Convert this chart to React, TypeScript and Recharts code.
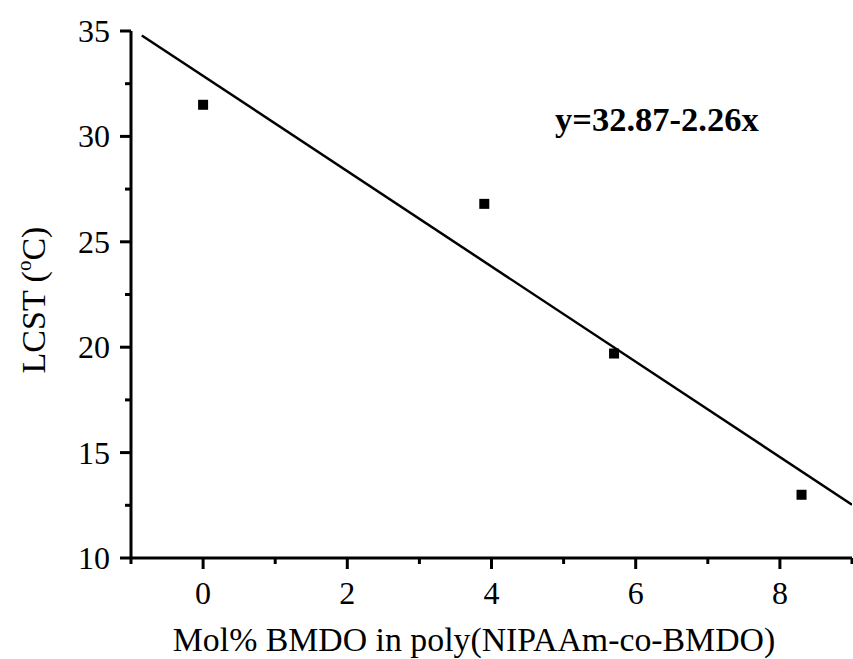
import { ScatterChart, Scatter, XAxis, YAxis } from "recharts";

// measured points
const molPct = [0, 3.9, 5.7, 8.3];
const lcst = [31.5, 26.8, 19.7, 13.0];

// linear fit y = 32.87 - 2.26x, end points as drawn
const fitX = [-0.85, 9];
const fitY = [34.79, 12.53];

const xTicks = [-1, 0, 1, 2, 3, 4, 5, 6, 7, 8, 9];
const yTicks = [10, 12.5, 15, 17.5, 20, 22.5, 25, 27.5, 30, 32.5, 35];
const xLabels = [0, 2, 4, 6, 8];
const yLabels = [10, 15, 20, 25, 30, 35];

const points = molPct.map((x, i) => ({ x, y: lcst[i] }));
const fitLine = fitX.map((x, i) => ({ x, y: fitY[i] }));

const FONT = '"Liberation Serif", "Times New Roman", serif';

// eslint-disable-next-line @typescript-eslint/no-explicit-any
const XTick = ({ x, y, payload }: any) => {
  const major = xLabels.includes(payload.value);
  return (
    <g>
      <line x1={x} y1={y} x2={x} y2={y + (major ? 11 : 6)} stroke="#000" strokeWidth={3} />
      {major && (
        <text x={x} y={y + 46} textAnchor="middle" fontSize={32} fontFamily={FONT} fill="#000">
          {payload.value}
        </text>
      )}
    </g>
  );
};

// eslint-disable-next-line @typescript-eslint/no-explicit-any
const YTick = ({ x, y, payload }: any) => {
  const major = yLabels.includes(payload.value);
  return (
    <g>
      <line x1={x - (major ? 11 : 6)} y1={y} x2={x} y2={y} stroke="#000" strokeWidth={3} />
      {major && (
        <text x={x - 21} y={y + 11} textAnchor="end" fontSize={32} fontFamily={FONT} fill="#000">
          {payload.value}
        </text>
      )}
    </g>
  );
};

// eslint-disable-next-line @typescript-eslint/no-explicit-any
const Square = ({ cx, cy }: any) => (
  <rect x={cx - 5} y={cy - 5} width={10} height={10} fill="#000" />
);

const NoDot = () => <g />;

export default function App() {
  return (
    <div style={{ position: "absolute", left: 0, top: 0, background: "#fff" }}>
      <ScatterChart
        width={853}
        height={659}
        margin={{ top: 31, right: 1, bottom: 0, left: 0 }}
      >
        <XAxis
          type="number"
          dataKey="x"
          domain={[-1, 9]}
          ticks={xTicks}
          interval={0}
          allowDataOverflow
          tickSize={0}
          tickMargin={0}
          tickLine={false}
          tick={<XTick />}
          axisLine={{ stroke: "#000", strokeWidth: 3 }}
          height={101}
        />
        <YAxis
          type="number"
          dataKey="y"
          domain={[10, 35]}
          ticks={yTicks}
          interval={0}
          allowDataOverflow
          tickSize={0}
          tickMargin={0}
          tickLine={false}
          tick={<YTick />}
          axisLine={{ stroke: "#000", strokeWidth: 3 }}
          width={131}
        />
        <Scatter
          data={fitLine}
          line={{ stroke: "#000", strokeWidth: 2.5 }}
          shape={<NoDot />}
          isAnimationActive={false}
        />
        <Scatter data={points} shape={<Square />} isAnimationActive={false} />
        <text
          x={474}
          y={651}
          textAnchor="middle"
          fontSize={33.8}
          fontFamily={FONT}
          fill="#000"
        >
          Mol% BMDO in poly(NIPAAm-co-BMDO)
        </text>
        <text
          transform="translate(45, 300) rotate(-90)"
          textAnchor="middle"
          fontSize={34}
          fontFamily={FONT}
          fill="#000"
        >
          LCST (
          <tspan fontSize={21} dy={-14}>o</tspan>
          <tspan dy={14}>C)</tspan>
        </text>
        <text
          x={555}
          y={131}
          fontSize={34.5}
          fontWeight="bold"
          fontFamily={FONT}
          fill="#000"
        >
          y=32.87-2.26x
        </text>
      </ScatterChart>
    </div>
  );
}
